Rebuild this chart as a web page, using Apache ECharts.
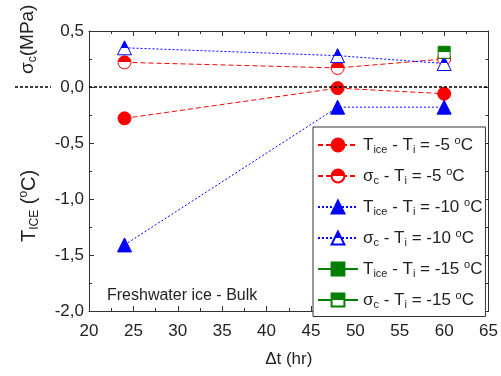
<!DOCTYPE html>
<html>
<head>
<meta charset="utf-8">
<script src="https://cdn.jsdelivr.net/npm/echarts@6/dist/echarts.min.js"></script>
<style>
html, body { margin: 0; padding: 0; background: #fff; }
#chart { width: 501px; height: 376px; }
</style>
</head>
<body>
<div id="chart"></div>
<script>
// data
var hours = [24, 48, 60];
var tIceMinus5 = [-0.28, -0.01, -0.06];
var sigmaMinus5 = [0.22, 0.17, 0.25];
var tIceMinus10 = [-1.41, -0.18, -0.18];
var sigmaMinus10 = [0.35, 0.28, 0.21];
var hours15 = [60];
var tIceMinus15 = [-2.08];
var sigmaMinus15 = [0.31];

var FONT = 'Liberation Sans, Arial, sans-serif';

function pairs(xs, ys) {
	var out = [];
	for (var i = 0; i < xs.length; i++) {
		out.push([xs[i], ys[i]]);
	}
	return out;
}

// top half coloured, bottom half white
function halfFill(c) {
	return {
		type : 'linear', x : 0, y : 0, x2 : 0, y2 : 1,
		colorStops : [ { offset : 0, color : c }, { offset : 0.5, color : c },
			{ offset : 0.5, color : '#fff' }, { offset : 1, color : '#fff' } ]
	};
}

var legendText = {
	'tice5' : '{b|T}{s|ice}{b| - T}{s|i}{b| = -5 }{p|o}{b|C}',
	'sig5' : '{b|σ}{s|c}{b| - T}{s|i}{b| = -5 }{p|o}{b|C}',
	'tice10' : '{b|T}{s|ice}{b| - T}{s|i}{b| = -10 }{p|o}{b|C}',
	'sig10' : '{b|σ}{s|c}{b| - T}{s|i}{b| = -10 }{p|o}{b|C}',
	'tice15' : '{b|T}{s|ice}{b| - T}{s|i}{b| = -15 }{p|o}{b|C}',
	'sig15' : '{b|σ}{s|c}{b| - T}{s|i}{b| = -15 }{p|o}{b|C}'
};

function mkSeries(name, xs, ys, symbol, size, color, fill, lineType) {
	return {
		name : name,
		type : 'line',
		data : pairs(xs, ys),
		symbol : symbol,
		symbolSize : size,
		showAllSymbol : true,
		clip : true,
		animation : false,
		itemStyle : {
			color : fill,
			borderColor : color,
			borderWidth : 1,
			opacity : 1
		},
		lineStyle : {
			color : color,
			width : 1,
			type : lineType
		}
	};
}

var chart = echarts.init(document.getElementById('chart'));

var red = '#ff0000', blue = '#0000ff', green = '#007f00';

var series = [
	mkSeries('tice5', hours, tIceMinus5, 'circle', 13, red, red, [5, 3]),
	mkSeries('sig5', hours, sigmaMinus5, 'circle', 13, red, halfFill(red), [5, 3]),
	mkSeries('tice10', hours, tIceMinus10, 'triangle', 14, blue, blue, [2, 2]),
	mkSeries('sig10', hours, sigmaMinus10, 'triangle', 14, blue, halfFill(blue), [2, 2]),
	mkSeries('tice15', hours15, tIceMinus15, 'rect', 12, green, green, 'solid'),
	mkSeries('sig15', hours15, sigmaMinus15, 'rect', 12, green, halfFill(green), 'solid')
];

// zero reference line
series[0].markLine = {
	silent : true,
	symbol : 'none',
	label : { show : false },
	lineStyle : { color : '#000', type : [3, 2], width : 1.5 },
	data : [ { yAxis : 0 } ]
};

var axisCommon = {
	axisLine : { onZero : false, lineStyle : { color : '#333', width : 1 } },
	axisTick : { inside : true, length : 5, lineStyle : { color : '#333' } },
	minorTick : { show : true, splitNumber : 2, length : 3, lineStyle : { color : '#333' } },
	splitLine : { show : false },
	minorSplitLine : { show : false }
};

function axis(extra) {
	return Object.assign({}, JSON.parse(JSON.stringify(axisCommon)), extra);
}

var option = {
	animation : false,
	backgroundColor : '#fff',
	grid : { left : 89, right : 11, top : 31, bottom : 65 },
	xAxis : [ axis({
		type : 'value', min : 20, max : 65, interval : 5, position : 'bottom',
		axisLabel : { fontSize : 17, color : '#222', fontFamily : FONT, margin : 12 },
		name : 'Δt (hr)', nameLocation : 'middle', nameGap : 40,
		nameTextStyle : { fontSize : 17, color : '#222', fontFamily : FONT }
	}), axis({
		type : 'value', min : 20, max : 65, interval : 5, position : 'top',
		axisLabel : { show : false }
	}) ],
	yAxis : [ axis({
		type : 'value', min : -2, max : 0.5, interval : 0.5, position : 'left',
		axisLabel : {
			fontSize : 17, color : '#222', fontFamily : FONT, margin : 5,
			formatter : function(v) { return v.toFixed(1).replace('.', ','); }
		}
	}), axis({
		type : 'value', min : -2, max : 0.5, interval : 0.5, position : 'right',
		axisLabel : { show : false }
	}) ],
	legend : {
		orient : 'vertical',
		left : 313,
		top : 127,
		padding : [ 8, 3, 6, 4 ],
		itemWidth : 40,
		itemHeight : 16,
		itemGap : 10.5,
		borderColor : '#333',
		borderWidth : 1,
		backgroundColor : '#fff',
		data : [ 'tice5', 'sig5', 'tice10', 'sig10', 'tice15', 'sig15' ],
		formatter : function(name) { return legendText[name]; },
		textStyle : {
			fontFamily : FONT,
			color : '#222',
			rich : {
				b : { fontSize : 17, fontFamily : FONT, color : '#222' },
				s : { fontSize : 11, fontFamily : FONT, color : '#222', padding : [ 10, 0, 0, 0 ] },
				p : { fontSize : 11, fontFamily : FONT, color : '#222', padding : [ 0, 0, 9, 0 ] }
			}
		}
	},
	graphic : [ {
		type : 'text', left : 107, top : 288,
		style : { text : 'Freshwater ice - Bulk', fontSize : 16, fontFamily : FONT, fill : '#222' }
	}, {
		type : 'text', x : 16, y : 74, rotation : Math.PI / 2,
		style : {
			text : '{b|σ}{s|c}{b|(MPa)}',
			rich : {
				b : { fontSize : 19, fontFamily : FONT, fill : '#222' },
				s : { fontSize : 12, fontFamily : FONT, fill : '#222', padding : [ 11, 0, 0, 0 ] }
			}
		}
	}, {
		type : 'text', x : 17, y : 242, rotation : Math.PI / 2,
		style : {
			text : '{b|T}{s|ICE}{b| (}{p|o}{b|C)}',
			rich : {
				b : { fontSize : 20, fontFamily : FONT, fill : '#222' },
				s : { fontSize : 12, fontFamily : FONT, fill : '#222', padding : [ 12, 0, 0, 0 ] },
				p : { fontSize : 12, fontFamily : FONT, fill : '#222', padding : [ 0, 0, 10, 0 ] }
			}
		}
	} ],
	series : series
};

chart.setOption(option);

// dashed zero line continues to the left of the axis label
var y0 = chart.convertToPixel({ yAxisIndex : 0 }, 0);
chart.setOption({
	graphic : option.graphic.concat([ {
		type : 'line',
		shape : { x1 : 15, y1 : y0, x2 : 51, y2 : y0 },
		style : { stroke : '#000', lineWidth : 1.5, lineDash : [ 3, 2 ] }
	} ])
});
</script>
</body>
</html>
